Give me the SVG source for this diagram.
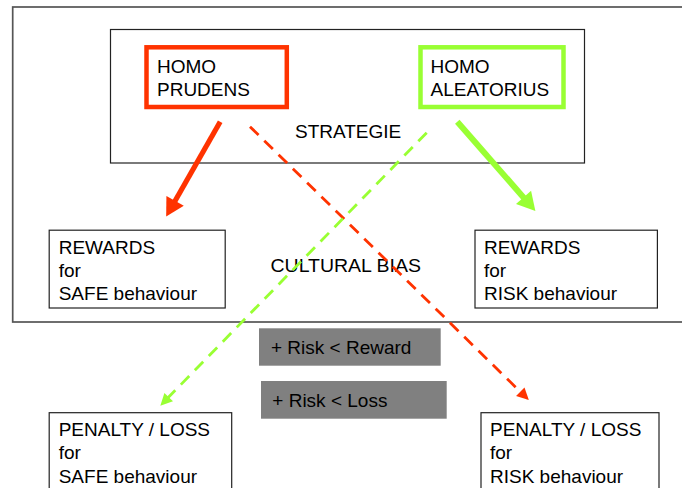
<svg xmlns="http://www.w3.org/2000/svg" width="682" height="488" viewBox="0 0 682 488">
  <style>
    text { font-family: "Liberation Sans", Arial, sans-serif; font-size: 19px; fill: #000; }
    .box { fill: #fff; stroke: #222; stroke-width: 1.2; }
    .frame { fill: none; stroke: #555; stroke-width: 1.7; }
    .tag { fill: #808080; }
    .solid { fill: none; stroke-linecap: butt; }
    .dash { fill: none; stroke-width: 2.8; stroke-dasharray: 12 8; }
    .red { stroke: #ff3300; }
    .green { stroke: #99ff33; }
  </style>
  <defs>
    <marker id="headRed" markerUnits="userSpaceOnUse" markerWidth="20" markerHeight="22" refX="1" refY="10" orient="auto" overflow="visible">
      <path d="M0,0 L18,10 L0,20 z" fill="#ff3300"/>
    </marker>
    <marker id="headGreen" markerUnits="userSpaceOnUse" markerWidth="20" markerHeight="22" refX="1" refY="10" orient="auto" overflow="visible">
      <path d="M0,0 L18,10 L0,20 z" fill="#99ff33"/>
    </marker>
    <marker id="smallRed" markerUnits="userSpaceOnUse" markerWidth="14" markerHeight="14" refX="1" refY="6" orient="auto" overflow="visible">
      <path d="M0,0 L12,6 L0,12 z" fill="#ff3300"/>
    </marker>
    <marker id="smallGreen" markerUnits="userSpaceOnUse" markerWidth="14" markerHeight="14" refX="1" refY="6" orient="auto" overflow="visible">
      <path d="M0,0 L12,6 L0,12 z" fill="#99ff33"/>
    </marker>
  </defs>

  <rect width="682" height="488" fill="#fff"/>

  <!-- outer frame around strategy and rewards -->
  <rect class="frame" x="12.7" y="7" width="690" height="315"/>

  <g id="strategie">
    <rect class="box" x="110.5" y="29.5" width="474" height="133.5"/>
    <text x="295" y="137.5">STRATEGIE</text>
  </g>

  <g id="homo-prudens">
    <rect x="146.5" y="47.3" width="140.3" height="59.7" fill="#fff" stroke="#ff3300" stroke-width="4.5"/>
    <text x="157" y="73.3">HOMO</text>
    <text x="157" y="95.8">PRUDENS</text>
  </g>

  <g id="homo-aleatorius">
    <rect x="420.5" y="47.3" width="143" height="59.7" fill="#fff" stroke="#99ff33" stroke-width="4.5"/>
    <text x="430.5" y="73.3">HOMO</text>
    <text x="430.5" y="95.8">ALEATORIUS</text>
  </g>

  <g id="cultural-bias">
    <text x="270.5" y="271.5" textLength="150.5" lengthAdjust="spacingAndGlyphs">CULTURAL BIAS</text>
  </g>

  <g id="rewards-safe">
    <rect class="box" x="49.2" y="230.2" width="176" height="77.8"/>
    <text x="58.7" y="254">REWARDS</text>
    <text x="58.7" y="277">for</text>
    <text x="58.7" y="300">SAFE behaviour</text>
  </g>

  <g id="rewards-risk">
    <rect class="box" x="475" y="230.2" width="182.4" height="77.8"/>
    <text x="484" y="254">REWARDS</text>
    <text x="484" y="277">for</text>
    <text x="484" y="300">RISK behaviour</text>
  </g>

  <g id="risk-reward">
    <rect class="tag" x="259" y="328.3" width="181.7" height="37.4"/>
    <text x="271" y="354.3">+ Risk &lt; Reward</text>
  </g>

  <g id="risk-loss">
    <rect class="tag" x="261" y="381" width="185.7" height="37.7"/>
    <text x="272.3" y="406.7">+ Risk &lt; Loss</text>
  </g>

  <g id="penalty-safe">
    <rect class="box" x="49.2" y="412.7" width="182.5" height="90"/>
    <text x="58.7" y="436">PENALTY / LOSS</text>
    <text x="58.7" y="459">for</text>
    <text x="58.7" y="482.7">SAFE behaviour</text>
  </g>

  <g id="penalty-risk">
    <rect class="box" x="481" y="412.7" width="178" height="90"/>
    <text x="490" y="436">PENALTY / LOSS</text>
    <text x="490" y="459">for</text>
    <text x="490" y="482.7">RISK behaviour</text>
  </g>

  <g id="connectors">
    <line class="solid red" x1="220.2" y1="121.7" x2="174.6" y2="201.7" stroke-width="5.2" marker-end="url(#headRed)"/>
    <line class="solid green" x1="457.3" y1="121.7" x2="524.2" y2="198.2" stroke-width="6" marker-end="url(#headGreen)"/>
    <line class="dash red" x1="250" y1="126.7" x2="521" y2="392.4" marker-end="url(#smallRed)"/>
    <line class="dash green" x1="426.7" y1="132.7" x2="168" y2="397.8" marker-end="url(#smallGreen)"/>
  </g>
</svg>
